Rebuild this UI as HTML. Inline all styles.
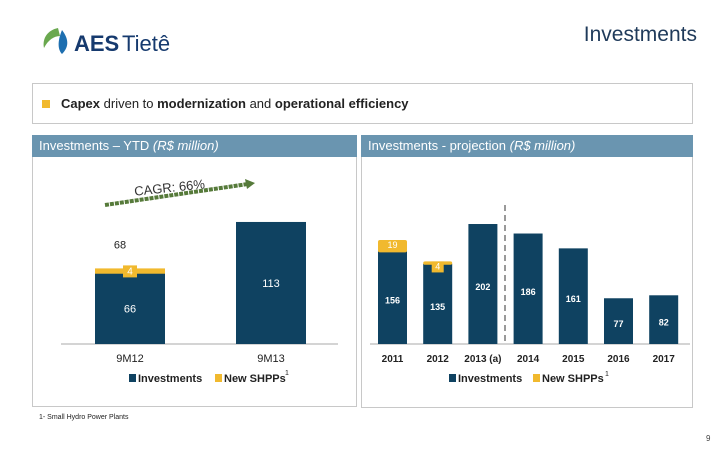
<!DOCTYPE html>
<html><head><meta charset="utf-8"><style>
body{margin:0;width:720px;height:450px;background:#fff;font-family:"Liberation Sans",sans-serif;position:relative;overflow:hidden}
.abs{position:absolute}
.hdr{background:#6a95b0;color:#fff;font-size:13px;line-height:21px;padding-left:7px;box-sizing:border-box}
</style></head><body>
<svg class="abs" style="left:40px;top:24px" width="160" height="34">
<path d="M18 4 C8 6 2 14 4 24 C8 16 14 12 20 12 Z" fill="#6aa84f"/>
<path d="M22 6 C28 14 30 22 22 30 C18 26 17 18 22 6 Z" fill="#1e6fb0"/>
<text x="34" y="27" font-family="Liberation Sans,sans-serif" font-size="22" font-weight="bold" fill="#163a6e">AES</text>
<text x="82" y="27" font-family="Liberation Sans,sans-serif" font-size="22" fill="#163a6e">Tietê</text>
</svg>
<div class="abs" style="right:23px;top:23px;font-size:21px;color:#1f3a5a">Investments</div>
<div class="abs" style="left:32px;top:83px;width:661px;height:41px;border:1px solid #c8c8c8;box-sizing:border-box">
<div class="abs" style="left:9px;top:16px;width:8px;height:8px;background:#f1b92e"></div>
<div class="abs" style="left:28px;top:12px;font-size:13px;color:#222"><b>Capex</b> driven to <b>modernization</b> and <b>operational efficiency</b></div>
</div>
<div class="abs" style="left:32px;top:135px;width:325px;height:272px;border:1px solid #c8c8c8;box-sizing:border-box"></div>
<div class="abs" style="left:361px;top:135px;width:332px;height:273px;border:1px solid #c8c8c8;box-sizing:border-box"></div>
<div class="abs hdr" style="left:32px;top:135px;width:325px;height:22px">Investments – YTD <i>(R$ million)</i></div>
<div class="abs hdr" style="left:361px;top:135px;width:332px;height:22px">Investments - projection <i>(R$ million)</i></div>
<svg id="c1" class="abs" style="left:0;top:0" width="720" height="450"></svg>
<div class="abs" style="left:39px;top:414px;font-size:7px;color:#222">1- Small Hydro Power Plants</div>
<div class="abs" style="left:706px;top:434px;font-size:8px;color:#444">9</div>
<script>
const ytdCats=["9M12","9M13"];
const ytdInv=[66,113];
const ytdShpp=[4,0];
const ytdTotals=["68",""];
const projCats=["2011","2012","2013 (a)","2014","2015","2016","2017"];
const projInv=[156,135,202,186,161,77,82];
const projShpp=[19,4,0,0,0,0,0];
const NS="http://www.w3.org/2000/svg";
const svg=document.getElementById('c1');
function mk(t,a,p){const e=document.createElementNS(NS,t);for(const k in a)e.setAttribute(k,a[k]);(p||svg).appendChild(e);return e;}
function txt(x,y,s,a){const e=mk('text',Object.assign({x:x,y:y,'text-anchor':'middle','font-family':'Liberation Sans,sans-serif','font-size':11},a));e.textContent=s;return e;}
const NAVY="#0f4261",GOLD="#f1b92e";
// YTD
const base1=344,k1=1.08;const x1=i=>95+i*141;const bw1=70;
const y1=v=>base1-v*k1;
mk('line',{x1:61,y1:base1,x2:338,y2:base1,stroke:"#aaa"});
ytdCats.forEach((c,i)=>{
 const r=mk('rect',{x:x1(i),y:y1(ytdInv[i]),width:bw1,height:ytdInv[i]*k1,fill:NAVY});
 
 txt(x1(i)+bw1/2,y1(ytdInv[i]/2)+4,String(ytdInv[i]),{fill:"#fff"});
 if(ytdShpp[i]>0){
  const s=mk('rect',{x:x1(i),y:y1(ytdInv[i]+ytdShpp[i]),width:bw1,height:ytdShpp[i]*k1+1,fill:GOLD});
  
  mk('rect',{x:x1(i)+bw1/2-7,y:y1(ytdInv[i]+ytdShpp[i])-3,width:14,height:12,fill:GOLD});
  txt(x1(i)+bw1/2,y1(ytdInv[i]+ytdShpp[i])+6,String(ytdShpp[i]),{fill:"#fff","font-size":10});
 }
 if(ytdTotals[i])txt(x1(i)+bw1/2-10,y1(ytdInv[i]+ytdShpp[i])-20,ytdTotals[i],{fill:"#222"});
 txt(x1(i)+bw1/2,362,c,{fill:"#222"});
});
// CAGR arrow
mk('line',{x1:105,y1:205,x2:248,y2:184,stroke:"#567a3a","stroke-width":4,"stroke-dasharray":"4 1"});
mk('polygon',{points:"255,183 245,179 247,189",fill:"#567a3a"});
txt(170,192,"CAGR: 66%",{fill:"#333","font-size":13,transform:"rotate(-6 170 192)"});
// legend left
mk('rect',{x:129,y:374,width:7,height:8,fill:NAVY});txt(138,382,"Investments",{"text-anchor":"start","font-weight":"bold","font-size":11,fill:"#222"});
mk('rect',{x:215,y:374,width:7,height:8,fill:GOLD});txt(224,382,"New SHPPs",{"text-anchor":"start","font-weight":"bold","font-size":11,fill:"#222"});
txt(287,375,"1",{"font-size":7,fill:"#222"});
// Projection
const base2=344,k2=0.594;const x2=i=>378+i*45.2;const bw2=29;const y2=v=>base2-v*k2;
mk('line',{x1:370,y1:base2,x2:690,y2:base2,stroke:"#aaa"});
mk('line',{x1:505,y1:205,x2:505,y2:base2,stroke:"#999","stroke-width":2,"stroke-dasharray":"6 4"});
projCats.forEach((c,i)=>{
 const r=mk('rect',{x:x2(i),y:y2(projInv[i]),width:bw2,height:projInv[i]*k2,fill:NAVY});
 
 txt(x2(i)+bw2/2,y2(projInv[i]/2)+6,String(projInv[i]),{fill:"#fff","font-size":9,"font-weight":"bold"});
 if(projShpp[i]>0){
  const s=mk('rect',{x:x2(i),y:y2(projInv[i]+projShpp[i]),width:bw2,height:projShpp[i]*k2+1,fill:GOLD,rx:2});
  
  if(projShpp[i]<10)mk('rect',{x:x2(i)+bw2/2-6,y:y2(projInv[i]+projShpp[i]),width:12,height:11,fill:GOLD});
  txt(x2(i)+bw2/2,y2(projInv[i]+projShpp[i])+8,String(projShpp[i]),{fill:"#fff","font-size":9});
 }
 txt(x2(i)+bw2/2,362,c,{fill:"#222","font-size":10,"font-weight":"bold"});
});
mk('rect',{x:449,y:374,width:7,height:8,fill:NAVY});txt(458,382,"Investments",{"text-anchor":"start","font-weight":"bold","font-size":11,fill:"#222"});
mk('rect',{x:533,y:374,width:7,height:8,fill:GOLD});txt(542,382,"New SHPPs",{"text-anchor":"start","font-weight":"bold","font-size":11,fill:"#222"});
txt(607,376,"1",{"font-size":7,fill:"#222"});
</script>
</body></html>
